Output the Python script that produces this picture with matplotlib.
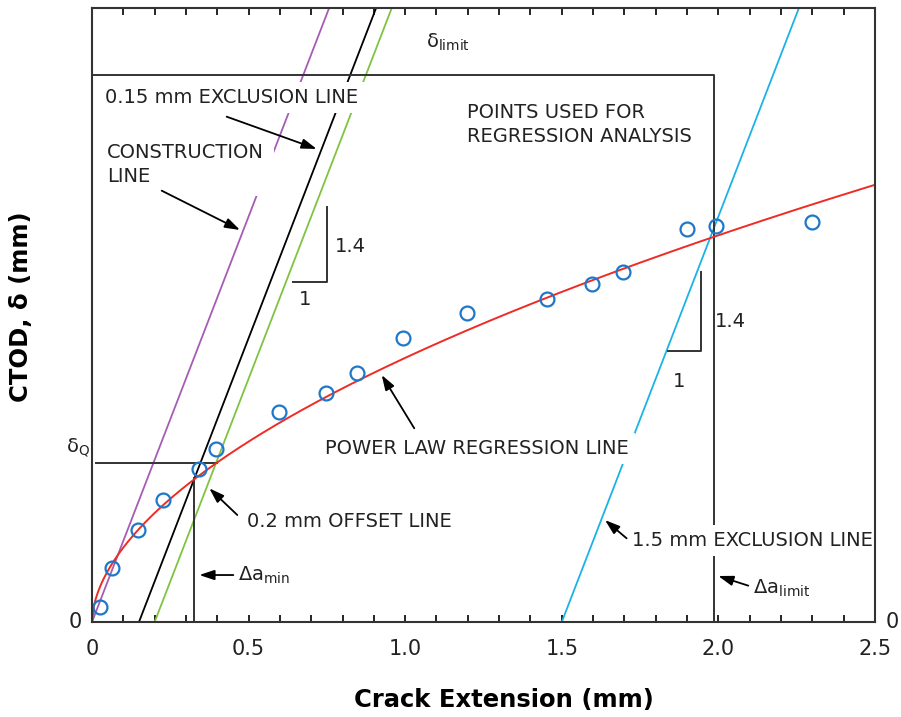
import numpy as np
import matplotlib
matplotlib.use("Agg")
import matplotlib.pyplot as plt

plt.rc("font", family="DejaVu Sans")

# measured crack extension (mm) and CTOD (mm)
crack_ext = [0.025, 0.065, 0.146, 0.226, 0.343, 0.397, 0.598, 0.747, 0.845,
             0.994, 1.196, 1.452, 1.597, 1.696, 1.899, 1.994, 2.298]
ctod = [0.026, 0.093, 0.159, 0.211, 0.264, 0.298, 0.363, 0.396, 0.430,
        0.491, 0.533, 0.558, 0.584, 0.605, 0.678, 0.684, 0.690]

# power law regression: delta = C * da^p
fit_C = 0.456
fit_p = 0.55

slope = 1.4
construction_x0 = 0.0
excl_015_x0 = 0.15
offset_x0 = 0.2
excl_15_x0 = 1.5

delta_q = 0.274
da_min = 0.327
delta_limit = 0.944
da_limit = 1.985

x_ticks = [0.0, 0.5, 1.0, 1.5, 2.0, 2.5]
x_tick_labels = ["0", "0.5", "1.0", "1.5", "2.0", "2.5"]

fig = plt.figure(figsize=(9.01, 7.17), dpi=100)
ax = fig.add_axes([0.1021, 0.1325, 0.8690, 0.8563])
ax.set_xlim(0, 2.5)
ax.set_ylim(0, 1.06)

xx = np.linspace(0, 2.5, 400)
ax.plot(xx, fit_C * xx ** fit_p, color="#ee2b24", lw=1.4, zorder=4)

lx = np.array([0, 2.5])
ax.plot(lx, slope * (lx - construction_x0), color="#a55cb5", lw=1.3, zorder=2)
ax.plot(lx, slope * (lx - excl_015_x0), color="black", lw=1.3, zorder=2)
ax.plot(lx, slope * (lx - offset_x0), color="#80c342", lw=1.3, zorder=2)
ax.plot(lx, slope * (lx - excl_15_x0), color="#1cb2e8", lw=1.3, zorder=2)

# limit box, delta_Q and da_min construction lines
ax.plot([0, da_limit, da_limit], [delta_limit, delta_limit, 0], color="#333333", lw=1.4, zorder=2)
ax.plot([0.012, 0.398], [delta_q, delta_q], color="#333333", lw=1.4, zorder=2)
ax.plot([da_min, da_min], [0, slope * (da_min - excl_015_x0)], color="#333333", lw=1.4, zorder=2)

# slope triangles
ax.plot([0.642, 0.749, 0.749], [0.587, 0.587, 0.7165], color="#333333", lw=1.4)
ax.plot([1.840, 1.943, 1.943], [0.468, 0.468, 0.605], color="#333333", lw=1.4)

ax.plot(crack_ext, ctod, "o", mfc="none", mec="#1f77c8", ms=10, mew=1.6, zorder=5)

fs = 14
tc = "#222222"
box = dict(boxstyle="square,pad=0.3", fc="white", ec="none")
ax.text(0.0415, 0.906, "0.15 mm EXCLUSION LINE", fontsize=fs, va="center",
        color=tc, bbox=box, zorder=3)
ax.text(0.047, 0.79, "CONSTRUCTION\nLINE", fontsize=fs, va="center", linespacing=1.3,
        color=tc, bbox=dict(boxstyle="square,pad=0.55", fc="white", ec="none"), zorder=3)
ax.text(1.197, 0.859, "POINTS USED FOR\nREGRESSION ANALYSIS", fontsize=fs, va="center",
        linespacing=1.3, color=tc, zorder=3)
ax.text(0.744, 0.299, "POWER LAW REGRESSION LINE", fontsize=fs, va="center",
        color=tc, bbox=box, zorder=3)
ax.text(0.495, 0.173, "0.2 mm OFFSET LINE", fontsize=fs, va="center", color=tc, zorder=3)
ax.text(1.724, 0.141, "1.5 mm EXCLUSION LINE", fontsize=fs, va="center",
        color=tc, bbox=box, zorder=3)
ax.text(0.465, 0.081, "Δa$_{\\mathregular{min}}$", fontsize=fs, va="center", color=tc)
ax.text(2.11, 0.058, "Δa$_{\\mathregular{limit}}$", fontsize=fs, va="center", color=tc)
ax.text(1.065, 1.0, "δ$_{\\mathregular{limit}}$", fontsize=fs, va="center", color=tc)
ax.text(-0.083, 0.30, "δ$_{\\mathregular{Q}}$", fontsize=fs, va="center", color=tc,
        clip_on=False)
ax.text(0.824, 0.648, "1.4", fontsize=fs, ha="center", va="center", color=tc)
ax.text(0.680, 0.556, "1", fontsize=fs, ha="center", va="center", color=tc)
ax.text(2.037, 0.518, "1.4", fontsize=fs, ha="center", va="center", color=tc)
ax.text(1.874, 0.416, "1", fontsize=fs, ha="center", va="center", color=tc)
ax.text(-0.055, 0.0, "0", fontsize=15, ha="center", va="center", color=tc)
ax.text(2.555, 0.0, "0", fontsize=15, ha="center", va="center", color=tc)

arrows = [((0.4301, 0.8724), (0.7174, 0.8167)),
          ((0.2225, 0.7447), (0.4725, 0.6768)),
          ((1.029, 0.3344), (0.925, 0.4264)),
          ((0.464, 0.1847), (0.3746, 0.2308)),
          ((0.4512, 0.0811), (0.3427, 0.0811)),
          ((1.707, 0.1445), (1.638, 0.176)),
          ((2.0956, 0.0627), (1.9997, 0.0794))]
for tail, head in arrows:
    ax.annotate("", xy=head, xytext=tail, zorder=6,
                arrowprops=dict(arrowstyle="-|>,head_length=0.9,head_width=0.3",
                                color="black", lw=1.3, shrinkA=0, shrinkB=0))

ax.set_xticks(x_ticks)
ax.set_xticklabels(x_tick_labels, fontsize=15, color=tc)
ax.set_xticks(np.arange(0, 2.51, 0.1), minor=True)
ax.tick_params(axis="x", which="both", direction="in", top=True, length=5, width=1.2, pad=12)
ax.set_yticks([])
for s in ax.spines.values():
    s.set_linewidth(1.5)
    s.set_color("#333333")
    s.set_zorder(7)

ax.set_xlabel("Crack Extension (mm)", fontsize=17.5, fontweight="bold")
ax.xaxis.set_label_coords(0.526, -0.108)
ax.set_ylabel("CTOD, δ (mm)", fontsize=17.5, fontweight="bold")
ax.yaxis.set_label_coords(-0.075, 0.513)

fig.savefig("out.png", dpi=100)
